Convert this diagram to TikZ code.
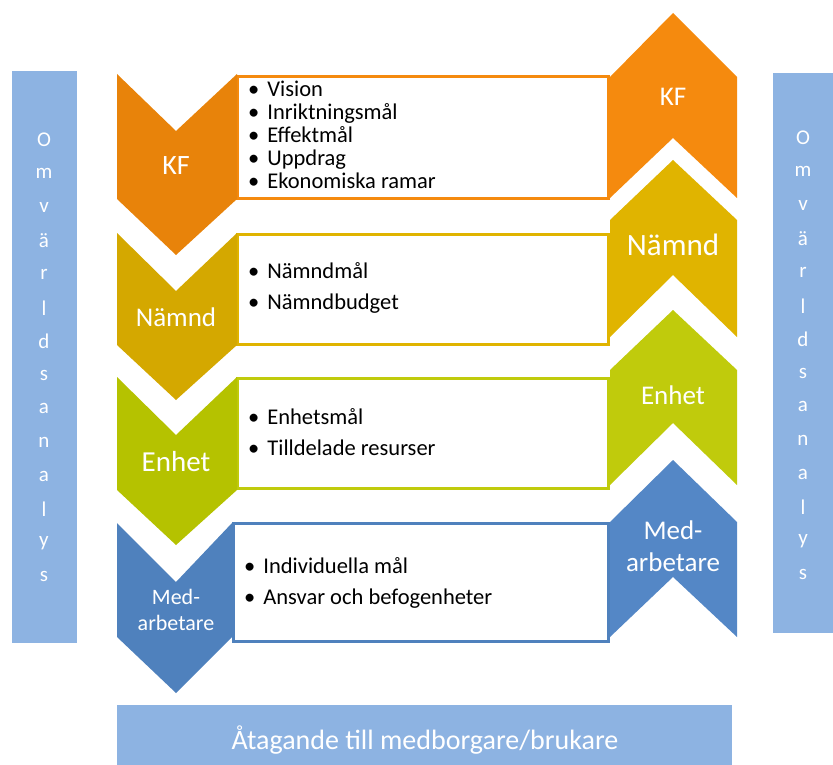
\documentclass[tikz,border=0pt]{standalone}
\usepackage{fontspec}
\setmainfont{Carlito}
\usetikzlibrary{positioning}

\definecolor{kfdark}{HTML}{E8830A}
\definecolor{kflight}{HTML}{F58A0E}
\definecolor{namdark}{HTML}{D4A800}
\definecolor{namlight}{HTML}{E0B400}
\definecolor{enhdark}{HTML}{B5C200}
\definecolor{enhlight}{HTML}{C0CB0C}
\definecolor{meddark}{HTML}{4F81BD}
\definecolor{medlight}{HTML}{5487C6}
\definecolor{barblue}{HTML}{8DB3E2}

\begin{document}
\begin{tikzpicture}[x=1pt,y=-1pt,
    lbl/.style={text=white,align=center,inner sep=0pt},
    items/.style={anchor=west,align=left,inner sep=0pt,font=\fontsize{22.5}{23}\selectfont},
    itembox/.style={draw,fill=white,line width=3pt},
    letter/.style={text=white,font=\fontsize{21}{21}\selectfont,inner sep=0pt}]
   \useasboundingbox (0,0) rectangle (833,765);

   % side bars and bottom bar
   \fill[barblue] (12,71) rectangle (77,643);
   \fill[barblue] (773,73) rectangle (833,633);
   \fill[barblue] (117,705) rectangle (732,765);
   \node[lbl,font=\fontsize{28}{28}\selectfont] (atag) at (425,740) {Åtagande till medborgare/brukare};

   \foreach \l [count=\i from 0] in {O,m,v,ä,r,l,d,s,a,n,a,l,y,s} {
      \node[letter] (vl\i) at (44,140+33.6*\i) {\l};
      \node[letter] (vr\i) at (803,138+33.6*\i) {\l};
   }

   % boxes
   \node[itembox,draw=kflight,minimum width=371pt,minimum height=122pt,anchor=north west] (kfbox) at (236,75) {};
   \node[itembox,draw=namlight,minimum width=371pt,minimum height=110pt,anchor=north west] (nambox) at (236,233) {};
   \node[itembox,draw=enhlight,minimum width=371pt,minimum height=110pt,anchor=north west] (enhbox) at (236,377) {};
   \node[itembox,draw=meddark,minimum width=375pt,minimum height=118pt,anchor=north west] (medbox) at (232,522) {};

   % left chevrons
   \fill[kfdark] (117,74) -- (176,131) -- (237,74) -- (237,199) -- (176,255) -- (117,199) -- cycle;
   \fill[namdark] (117,233) -- (176,291) -- (237,233) -- (237,345) -- (176,400) -- (117,345) -- cycle;
   \fill[enhdark] (117,377) -- (176,435) -- (237,377) -- (237,490) -- (176,545) -- (117,490) -- cycle;
   \fill[meddark] (117,523) -- (176,582) -- (232,523) -- (232,637) -- (176,693) -- (117,637) -- cycle;

   % right chevrons
   \fill[kflight] (610,77) -- (673,13) -- (737,77) -- (737,198) -- (673,138) -- (610,198) -- cycle;
   \fill[namlight] (610,220) -- (673,160) -- (737,220) -- (737,337) -- (673,275) -- (610,337) -- cycle;
   \fill[enhlight] (610,370) -- (673,310) -- (737,370) -- (737,485) -- (673,423) -- (610,485) -- cycle;
   \fill[medlight] (610,522) -- (673,460) -- (737,522) -- (737,637) -- (673,577) -- (610,637) -- cycle;

   % labels
   \node[lbl,font=\fontsize{28}{28}\selectfont] (kfL) at (176,166) {KF};
   \node[lbl,font=\fontsize{27}{27}\selectfont] (namL) at (176,317) {Nämnd};
   \node[lbl,font=\fontsize{29}{29}\selectfont] (enhL) at (176,462) {Enhet};
   \node[lbl,font=\fontsize{22}{26}\selectfont] (medL) at (176,610) {Med-\\arbetare};

   \node[lbl,font=\fontsize{27}{27}\selectfont] (kfR) at (673,97) {KF};
   \node[lbl,font=\fontsize{31}{31}\selectfont] (namR) at (673,245) {Nämnd};
   \node[lbl,font=\fontsize{27}{27}\selectfont] (enhR) at (673,395) {Enhet};
   \node[lbl,font=\fontsize{27}{32}\selectfont] (medR) at (673,546) {Med-\\arbetare};

   % items
   \node[items] (kfitems) at (248,135) {\textbullet\hspace{8pt}Vision\\\textbullet\hspace{8pt}Inriktningsmål\\\textbullet\hspace{8pt}Effektmål\\\textbullet\hspace{8pt}Uppdrag\\\textbullet\hspace{8pt}Ekonomiska ramar};
   \node[items,font=\fontsize{22.5}{31}\selectfont] (namitems) at (248,288) {\textbullet\hspace{8pt}Nämndmål\\\textbullet\hspace{8pt}Nämndbudget};
   \node[items,font=\fontsize{22.5}{31}\selectfont] (enhitems) at (248,432) {\textbullet\hspace{8pt}Enhetsmål\\\textbullet\hspace{8pt}Tilldelade resurser};
   \node[items,font=\fontsize{22.5}{31}\selectfont] (meditems) at (244,583) {\textbullet\hspace{8pt}Individuella mål\\\textbullet\hspace{8pt}Ansvar och befogenheter};
\end{tikzpicture}
\end{document}
